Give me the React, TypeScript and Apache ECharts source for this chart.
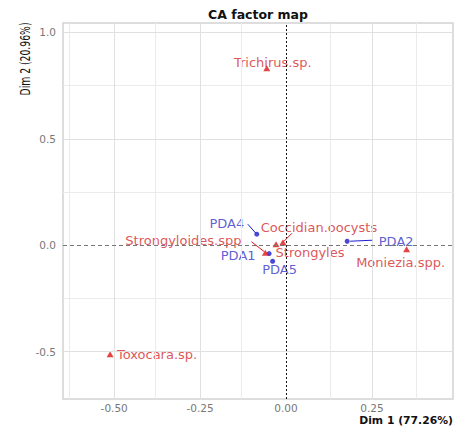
import React, { useEffect, useRef } from "react";
import * as echarts from "echarts";

// Row points (blue)
const rowNames = ["PDA1", "PDA2", "PDA4", "PDA5"];
const rowDim1 = [-0.049, 0.178, -0.085, -0.039];
const rowDim2 = [-0.039, 0.019, 0.052, -0.075];

// Column points (red)
const colNames = ["Trichirus.sp.", "Toxocara.sp.", "Moniezia.spp.", "Coccidian.oocysts", "Strongyloides.spp", "Strongyles"];
const colDim1 = [-0.056, -0.512, 0.351, -0.009, -0.06, -0.029];
const colDim2 = [0.831, -0.512, -0.019, 0.014, -0.035, 0.005];

const xTicks = [-0.5, -0.25, 0, 0.25];
const xMinor = [-0.625, -0.375, -0.125, 0.125, 0.375];
const yTicks = [-0.5, 0, 0.5, 1.0];
const yMinor = [-0.25, 0.25, 0.75];

const xRange = [-0.649, 0.486];
const yRange = [-0.722, 1.044];

// label placement (repel-like), px offsets of label centre from point
const rowLabelLayout: Record<string, { dx: number; dy: number }> = {
  PDA1: { dx: -31, dy: 2 },
  PDA2: { dx: 49, dy: 0 },
  PDA4: { dx: -30, dy: -11 },
  PDA5: { dx: 7, dy: 8 },
};
const colLabelLayout: Record<string, { dx: number; dy: number }> = {
  "Trichirus.sp.": { dx: 6, dy: -6 },
  "Toxocara.sp.": { dx: 47, dy: 0 },
  "Moniezia.spp.": { dx: -6, dy: 13 },
  "Coccidian.oocysts": { dx: 36, dy: -15 },
  "Strongyloides.spp": { dx: -82, dy: -12 },
  Strongyles: { dx: 34, dy: 8 },
};
// leader segments: [start offset px, end offset px] relative to the point
const rowSegments: Record<string, number[][]> = {
  PDA2: [[25, -1], [3, 0]],
  PDA4: [[-9, -10], [-1, -1]],
};
const colSegments: Record<string, number[][]> = {
  "Coccidian.oocysts": [[9, -9], [1, -1]],
  "Strongyloides.spp": [[-14, -11], [-1, -1]],
};

const BLUE_TXT = "#3535c9";
const BLUE_PT = "#1c1cd0";
const RED_TXT = "#d42a2a";
const RED_PT = "#e01515";
const FONT = "'DejaVu Sans', sans-serif";

export default function App() {
  const ref = useRef<HTMLDivElement>(null);
  useEffect(() => {
    if (!ref.current) return;
    const chart = echarts.init(ref.current, undefined, { renderer: "svg" });

    const gridLines: any[] = [];
    xMinor.forEach((v) => gridLines.push({ xAxis: v, lineStyle: { color: "#ebebeb", width: 1, type: "solid" } }));
    yMinor.forEach((v) => gridLines.push({ yAxis: v, lineStyle: { color: "#ebebeb", width: 1, type: "solid" } }));
    xTicks.filter((v) => v !== 0).forEach((v) => gridLines.push({ xAxis: v, lineStyle: { color: "#e0e0e0", width: 1, type: "solid" } }));
    yTicks.filter((v) => v !== 0).forEach((v) => gridLines.push({ yAxis: v, lineStyle: { color: "#e0e0e0", width: 1, type: "solid" } }));
    gridLines.push({ yAxis: 0, lineStyle: { color: "#777777", width: 1, type: [4, 3] } });
    gridLines.push({ xAxis: 0, lineStyle: { color: "#111111", width: 1, type: [2, 2] } });

    const rowData = rowNames.map((n, i) => ({ name: n, value: [rowDim1[i], rowDim2[i]] }));
    const colData = colNames.map((n, i) => ({ name: n, value: [colDim1[i], colDim2[i]] }));

    chart.setOption({
      animation: false,
      grid: {
        left: 63,
        right: 3,
        top: 23,
        bottom: 28,
        show: true,
        borderColor: "#d2d2d2",
        borderWidth: 1.5,
        backgroundColor: "#ffffff",
      },
      xAxis: {
        type: "value",
        min: xRange[0],
        max: xRange[1],
        axisLine: { show: false },
        splitLine: { show: false },
        axisTick: { show: true, customValues: xTicks, length: 3, lineStyle: { color: "#bdbdbd" } },
        axisLabel: {
          customValues: xTicks,
          formatter: (v: number) => v.toFixed(2),
          color: "#777777",
          fontSize: 10.5,
          fontFamily: FONT,
          margin: 3,
        },
      },
      yAxis: {
        type: "value",
        min: yRange[0],
        max: yRange[1],
        axisLine: { show: false },
        splitLine: { show: false },
        axisTick: { show: true, customValues: yTicks, length: 3, lineStyle: { color: "#bdbdbd" } },
        axisLabel: {
          customValues: yTicks,
          formatter: (v: number) => v.toFixed(1),
          color: "#777777",
          fontSize: 10.5,
          fontFamily: FONT,
          margin: 7,
        },
      },
      series: [
        {
          type: "scatter",
          data: [],
          silent: true,
          z: 1,
          markLine: {
            silent: true,
            symbol: "none",
            label: { show: false },
            animation: false,
            data: gridLines,
          },
        },
        {
          type: "scatter",
          name: "rows",
          z: 3,
          symbol: "circle",
          symbolSize: 5,
          itemStyle: { color: BLUE_PT },
          data: rowData,
          label: {
            show: true,
            position: "inside",
            formatter: "{b}",
            color: BLUE_TXT,
            fontSize: 13,
            fontFamily: FONT,
          },
          labelLayout: (p: any) => {
            const o = rowLabelLayout[rowNames[p.dataIndex]];
            return { dx: o.dx, dy: o.dy, hideOverlap: false };
          },
        },
        {
          type: "scatter",
          name: "cols",
          z: 3,
          symbol: "triangle",
          symbolSize: [7, 6],
          itemStyle: { color: RED_PT },
          data: colData,
          label: {
            show: true,
            position: "inside",
            formatter: "{b}",
            color: RED_TXT,
            fontSize: 13,
            fontFamily: FONT,
          },
          labelLayout: (p: any) => {
            const o = colLabelLayout[colNames[p.dataIndex]];
            return { dx: o.dx, dy: o.dy, hideOverlap: false };
          },
        },
      ],
    });

    const segs: any[] = [];
    const addSegs = (names: string[], d1: number[], d2: number[], map: Record<string, number[][]>, color: string, si: number) => {
      names.forEach((n, i) => {
        const s = map[n];
        if (!s) return;
        const p = chart.convertToPixel({ seriesIndex: si }, [d1[i], d2[i]]) as number[];
        segs.push({
          type: "line",
          z: 10,
          silent: true,
          shape: { x1: p[0] + s[0][0], y1: p[1] + s[0][1], x2: p[0] + s[1][0], y2: p[1] + s[1][1] },
          style: { stroke: color, lineWidth: 1 },
        });
      });
    };
    addSegs(rowNames, rowDim1, rowDim2, rowSegments, BLUE_PT, 1);
    addSegs(colNames, colDim1, colDim2, colSegments, RED_PT, 2);

    chart.setOption({
      graphic: [
        {
          type: "text",
          style: {
            text: "CA factor map",
            x: 258,
            y: 14,
            align: "center",
            verticalAlign: "middle",
            font: "bold 12.5px 'DejaVu Sans', sans-serif",
            fill: "#111111",
          },
        },
        {
          type: "text",
          style: {
            text: "Dim 1 (77.26%)",
            x: 453,
            y: 420,
            align: "right",
            verticalAlign: "middle",
            font: "bold 10.8px 'DejaVu Sans', sans-serif",
            fill: "#111111",
          },
        },
        {
          type: "text",
          x: 25,
          y: 59,
          rotation: Math.PI / 2,
          scaleY: 1.35,
          style: {
            text: "Dim 2 (20.96%)",
            x: 0,
            y: 0,
            align: "center",
            verticalAlign: "middle",
            font: "10.3px 'DejaVu Sans Condensed', sans-serif",
            fill: "#111111",
          },
        },
        ...segs,
      ],
    });
    return () => chart.dispose();
  }, []);
  return <div ref={ref} style={{ width: 456, height: 427, position: "absolute", left: 0, top: 0 }} />;
}
